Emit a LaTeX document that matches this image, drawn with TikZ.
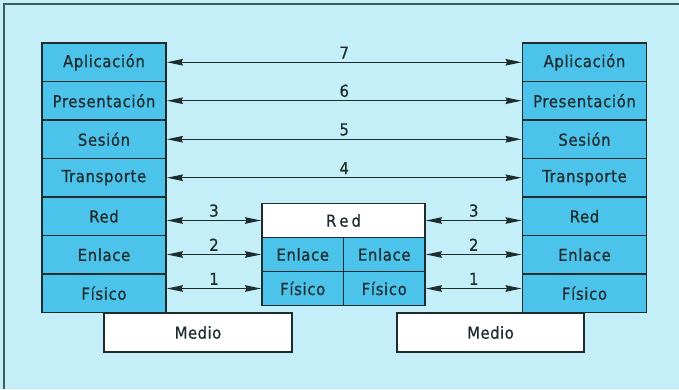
\documentclass[tikz,border=0pt]{standalone}
\usepackage{fontspec}
\setmainfont{DejaVu Sans Condensed}[FakeBold=0.6,LetterSpace=4]
\usetikzlibrary{arrows.meta}
\definecolor{bg}{HTML}{C4EFF8}
\definecolor{layer}{HTML}{4CC3EA}
\definecolor{ink}{HTML}{1F2C2E}
\definecolor{frame}{HTML}{3E5C58}
\begin{document}
\begin{tikzpicture}[x=1pt,y=-1pt,
  txt/.style={text=ink, font=\fontsize{16.5}{18}\selectfont},
  layerbox/.style={txt, draw=ink, line width=1.8pt, fill=layer, minimum width=124pt, minimum height=38.5pt, inner sep=0pt},
  midred/.style={txt, draw=ink, line width=1.8pt, fill=white, minimum width=163pt, minimum height=34pt, inner sep=0pt},
  midcell/.style={txt, draw=ink, line width=1.8pt, fill=layer, minimum width=81.5pt, minimum height=34pt, inner sep=0pt},
  mediobox/.style={txt, draw=ink, line width=1.8pt, fill=white, minimum width=188pt, minimum height=39pt, inner sep=0pt},
  link/.style={draw=ink, line width=1.3pt, {Stealth[length=16pt,width=6.5pt,inset=1.5pt]}-{Stealth[length=16pt,width=6.5pt,inset=1.5pt]}},
  lbl/.style={txt, anchor=south, inner sep=3pt}]
\fill[bg] (0,0) rectangle (679,389);
\useasboundingbox (0,0) rectangle (679,389);
\draw[frame, line width=1.8pt] (4,389) -- (4,4) -- (679,4);
% medio boxes (behind stacks)
\node[mediobox] (medL) at (198,332.5) {M\hspace{0.5pt}e\hspace{0.5pt}d\hspace{0.5pt}i\hspace{0.5pt}o};
\node[mediobox, minimum width=187pt] (medR) at (490.5,332.5) {M\hspace{0.5pt}e\hspace{0.5pt}d\hspace{0.5pt}i\hspace{0.5pt}o};
% left stack
\node[layerbox] (L1) at (104,62.25) {Aplicación};
\node[layerbox] (L2) at (104,100.75) {Presentación};
\node[layerbox] (L3) at (104,139.25) {Sesión};
\node[layerbox] (L4) at (104,177.75) {Transporte};
\node[layerbox] (L5) at (104,216.25) {Red};
\node[layerbox] (L6) at (104,254.75) {Enlace};
\node[layerbox] (L7) at (104,293.25) {Físico};
% right stack
\node[layerbox] (R1) at (584.5,62.25) {Aplicación};
\node[layerbox] (R2) at (584.5,100.75) {Presentación};
\node[layerbox] (R3) at (584.5,139.25) {Sesión};
\node[layerbox] (R4) at (584.5,177.75) {Transporte};
\node[layerbox] (R5) at (584.5,216.25) {Red};
\node[layerbox] (R6) at (584.5,254.75) {Enlace};
\node[layerbox] (R7) at (584.5,293.25) {Físico};
% middle block
\node[midred] (M1) at (343.5,220.5) {R\hspace{3pt}e\hspace{3pt}d};
\node[midcell] (M2a) at (302.75,254.5) {Enlace};
\node[midcell] (M2b) at (384.25,254.5) {Enlace};
\node[midcell] (M3a) at (302.75,288.5) {Físico};
\node[midcell] (M3b) at (384.25,288.5) {Físico};
% peer links
\draw[link] (L1.east) -- node[lbl] {7} (R1.west);
\draw[link] (L2.east) -- node[lbl] {6} (R2.west);
\draw[link] (L3.east) -- node[lbl] {5} (R3.west);
\draw[link] (L4.east) -- node[lbl] {4} (R4.west);
\draw[link] (L5.east |- M1.west) -- node[lbl] {3} (M1.west);
\draw[link] (L6.east |- M2a.west) -- node[lbl] {2} (M2a.west);
\draw[link] (L7.east |- M3a.west) -- node[lbl] {1} (M3a.west);
\draw[link] (M1.east) -- node[lbl] {3} (R5.west |- M1.east);
\draw[link] (M2b.east) -- node[lbl] {2} (R6.west |- M2b.east);
\draw[link] (M3b.east) -- node[lbl] {1} (R7.west |- M3b.east);
\end{tikzpicture}
\end{document}
